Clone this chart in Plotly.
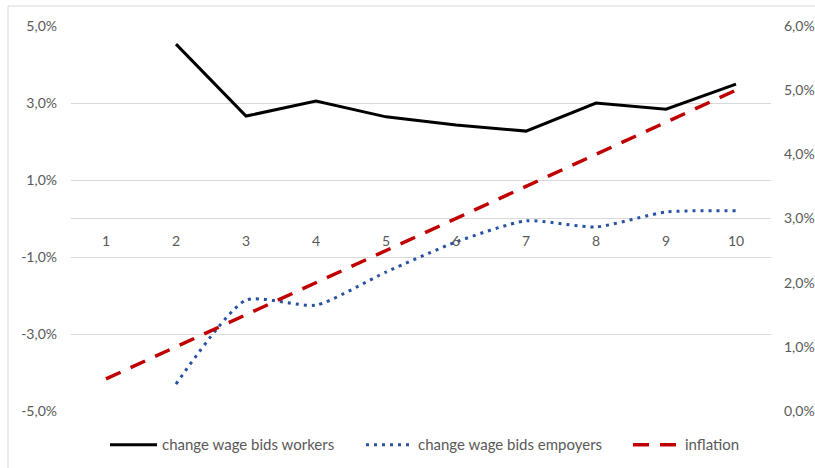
import plotly.graph_objects as go

# Periods on the category axis
periods = [1, 2, 3, 4, 5, 6, 7, 8, 9, 10]

# Percentage changes (left axis), no value in period 1
wage_bids_workers = [None, 4.53, 2.66, 3.05, 2.64, 2.43, 2.27, 3.00, 2.84, 3.49]
wage_bids_employers = [None, -4.30, -2.12, -2.25, -1.39, -0.61, -0.06, -0.22, 0.17, 0.20]

# Inflation in percent (right axis)
inflation = [0.5, 1.0, 1.5, 2.0, 2.5, 3.0, 3.5, 4.0, 4.5, 5.0]

# Axis ticks and labels
left_ticks = [-5, -3, -1, 1, 3, 5]
left_labels = ["-5,0%", "-3,0%", "-1,0%", "1,0%", "3,0%", "5,0%"]
right_ticks = [0, 1, 2, 3, 4, 5, 6]
right_labels = ["0,0%", "1,0%", "2,0%", "3,0%", "4,0%", "5,0%", "6,0%"]

FONT = "Lato"
GREY_TEXT = "#595959"
GRID = "#d9d9d9"

fig = go.Figure()

fig.add_trace(go.Scatter(
    x=periods, y=wage_bids_workers, name="change wage bids workers",
    mode="lines", line=dict(color="#000000", width=3),
    yaxis="y", legend="legend",
))
fig.add_trace(go.Scatter(
    x=periods, y=wage_bids_employers, name="change wage bids empoyers",
    mode="lines", line=dict(color="#2952a3", width=3, dash="3px,5px",
                            shape="spline", smoothing=0.6),
    yaxis="y", legend="legend2",
))
fig.add_trace(go.Scatter(
    x=periods, y=inflation, name="inflation",
    mode="lines", line=dict(color="#c00000", width=3.5, dash="16px,11px"),
    yaxis="y2", legend="legend3",
))

# Light frame around the chart area
W, H = 815, 468
L, R, T, B = 71, 44, 26, 57
pw, ph = W - L - R, H - T - B
fig.add_shape(
    type="rect", xref="paper", yref="paper",
    x0=(8 - L) / pw, x1=(W + 10 - L) / pw,
    y0=(H - B - (H + 10)) / ph, y1=(H - B - 6) / ph,
    line=dict(color=GRID, width=1), layer="below",
)


def legend_at(px):
    # one legend entry, left edge at a pixel column below the plot
    return dict(
        orientation="h", x=(px - L) / pw, xanchor="left",
        y=-0.088, yanchor="middle",
        font=dict(family=FONT, size=15, color=GREY_TEXT),
        itemwidth=47, bgcolor="rgba(0,0,0,0)",
    )


fig.update_layout(
    width=W, height=H,
    margin=dict(l=L, r=R, t=T, b=B, pad=0, autoexpand=False),
    paper_bgcolor="white", plot_bgcolor="white",
    font=dict(family=FONT, size=14, color=GREY_TEXT),
    showlegend=True,
    legend=legend_at(105),
    legend2=legend_at(361),
    legend3=legend_at(628),
    xaxis=dict(
        range=[0.5, 10.5], tickvals=periods, ticktext=[str(p) for p in periods],
        showgrid=False, showline=False, zeroline=False,
        anchor="free", position=0.5,
        ticks="outside", ticklen=10, tickcolor="rgba(0,0,0,0)",
        tickfont=dict(family=FONT, size=14, color=GREY_TEXT),
    ),
    yaxis=dict(
        range=[-5, 5], tickvals=left_ticks, ticktext=left_labels,
        showgrid=True, gridcolor=GRID, gridwidth=1,
        zeroline=True, zerolinecolor=GRID, zerolinewidth=1,
        showline=False, ticks="", ticklabelstandoff=13,
        tickfont=dict(family=FONT, size=14, color=GREY_TEXT),
    ),
    yaxis2=dict(
        range=[0, 6], tickvals=right_ticks, ticktext=right_labels,
        overlaying="y", side="right", showgrid=False, zeroline=False,
        showline=False, ticks="", ticklabelstandoff=12,
        tickfont=dict(family=FONT, size=14, color=GREY_TEXT),
    ),
)

fig.write_html("out.html")
